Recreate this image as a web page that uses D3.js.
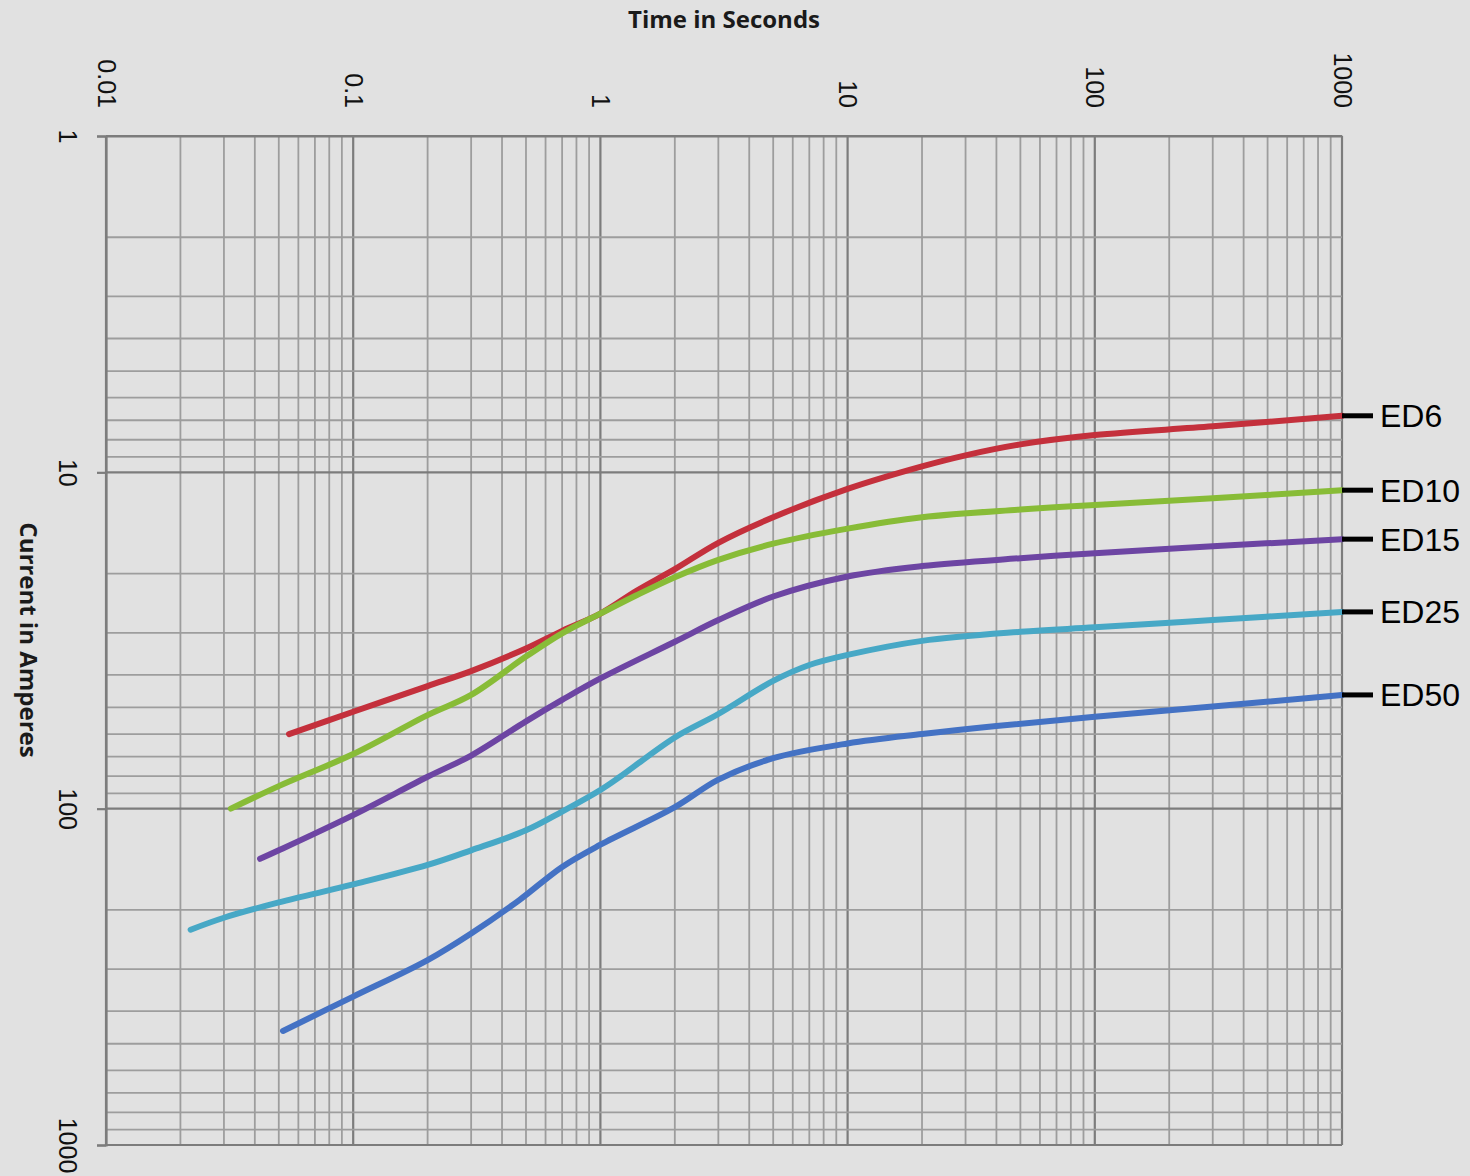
<!DOCTYPE html>
<html>
<head>
<meta charset="utf-8">
<script src="https://cdn.jsdelivr.net/npm/d3@7"></script>
<style>
  body { margin: 0; background: #e1e1e1; }
  svg { display: block; }
</style>
</head>
<body>
<div id="chart"></div>
<script>
// series names and colours
const seriesNames = ["ED6", "ED10", "ED15", "ED25", "ED50"];
const seriesColors = ["#c4303c", "#88bc37", "#6d45a3", "#47a8c6", "#4472c4"];

// time in seconds / current in amperes
const ed6Time    = [0.055, 0.1, 0.2, 0.3, 0.5, 0.7, 1, 1.4, 2, 3, 5, 10, 20, 30, 50, 100, 300, 1000];
const ed6Current = [60, 51.5, 43.2, 39, 33.4, 29.6, 26.3, 22.5, 19.4, 16.2, 13.6, 11.2, 9.6, 8.9, 8.26, 7.75, 7.3, 6.79];

const ed10Time    = [0.032, 0.05, 0.1, 0.2, 0.3, 0.5, 0.7, 1, 1.4, 2, 3, 5, 10, 20, 50, 100, 300, 1000];
const ed10Current = [100, 85.7, 68.8, 52.7, 45.9, 35.3, 30.1, 26.3, 23.2, 20.5, 18.2, 16.3, 14.7, 13.6, 12.9, 12.5, 11.95, 11.3];

const ed15Time    = [0.042, 0.05, 0.1, 0.2, 0.3, 0.5, 0.7, 1, 2, 3, 5, 10, 20, 50, 100, 300, 1000];
const ed15Current = [141, 133, 104.5, 80.4, 69.5, 55, 47.5, 41, 31.9, 27.5, 23.4, 20.4, 19, 18, 17.4, 16.6, 15.8];

const ed25Time    = [0.022, 0.03, 0.05, 0.1, 0.2, 0.3, 0.5, 0.7, 1, 1.2, 2, 3, 5, 7, 10, 20, 50, 100, 300, 1000];
const ed25Current = [229, 211, 190, 168, 147, 133, 116, 102, 88, 80.4, 61.4, 52.3, 41.7, 37.4, 34.9, 31.7, 29.8, 28.9, 27.5, 26];

const ed50Time    = [0.052, 0.1, 0.2, 0.3, 0.47, 0.7, 1, 2, 3, 5, 10, 20, 40, 100, 300, 1000];
const ed50Current = [458, 362, 282, 235, 187, 149, 128, 99, 82, 70.8, 64, 60, 56.8, 53.3, 49.7, 45.9];

// tick labels
const timeTicks = [0.01, 0.1, 1, 10, 100, 1000];
const currentTicks = [1, 10, 100, 1000];

const seriesTimes = [ed6Time, ed10Time, ed15Time, ed25Time, ed50Time];
const seriesCurrents = [ed6Current, ed10Current, ed15Current, ed25Current, ed50Current];

const width = 1470;
const height = 1176;
const margin = {t: 136, b: 31, l: 106, r: 128};

const svg = d3.select("#chart")
    .append("svg")
    .attr("width", width)
    .attr("height", height)
    .attr("viewBox", [0, 0, width, height]);

svg.append("rect")
    .attr("width", width)
    .attr("height", height)
    .attr("fill", "#e1e1e1");

//X Scale (time, log)
const xScale = d3.scaleLog()
    .domain([0.01, 1000])
    .range([margin.l, width - margin.r]);

//Y Scale (current, log, 1 at the top)
const yScale = d3.scaleLog()
    .domain([1, 1000])
    .range([margin.t, height - margin.b]);

const isMajor = v => Math.abs(Math.log10(v) - Math.round(Math.log10(v))) < 1e-9;

//Grid
const grid = svg.append("g").attr("class", "grid");
grid.selectAll("line.vgrid")
    .data(xScale.ticks())
    .enter()
    .append("line")
    .attr("class", "vgrid")
    .attr("x1", d => xScale(d))
    .attr("x2", d => xScale(d))
    .attr("y1", yScale(1))
    .attr("y2", yScale(1000))
    .style("stroke", d => isMajor(d) ? "#7c7c7c" : "#9d9d9d")
    .style("stroke-width", d => isMajor(d) ? 2.2 : 1.8);

grid.selectAll("line.hgrid")
    .data(yScale.ticks())
    .enter()
    .append("line")
    .attr("class", "hgrid")
    .attr("x1", xScale(0.01))
    .attr("x2", xScale(1000))
    .attr("y1", d => yScale(d))
    .attr("y2", d => yScale(d))
    .style("stroke", d => isMajor(d) ? "#7c7c7c" : "#9d9d9d")
    .style("stroke-width", d => isMajor(d) ? 2.2 : 1.8);

//Y Axis (ticks stick out on the left)
const yAxis = d3.axisLeft(yScale)
    .tickValues(currentTicks)
    .tickSize(9)
    .tickFormat(d3.format("d"));
const yAxisG = svg.append("g")
    .attr("class", "yAxis")
    .attr("transform", `translate(${margin.l}, 0)`)
    .call(yAxis);
yAxisG.select(".domain")
    .attr("stroke", "#7c7c7c")
    .attr("stroke-width", 2.2);
yAxisG.selectAll(".tick line")
    .attr("stroke", "#7c7c7c")
    .attr("stroke-width", 2.2);
yAxisG.selectAll(".tick text")
    .attr("x", null)
    .attr("dy", null)
    .attr("transform", `translate(${59 - margin.l}, 0) rotate(90)`)
    .attr("text-anchor", "middle")
    .attr("fill", "#111")
    .style("font-family", "'Liberation Sans', Arial, sans-serif")
    .style("font-size", "25px");

//X Axis labels on top, turned a quarter
const xAxis = d3.axisTop(xScale)
    .tickValues(timeTicks)
    .tickSize(0)
    .tickFormat(d => String(d));
const xAxisG = svg.append("g")
    .attr("class", "xAxis")
    .attr("transform", `translate(0, ${margin.t})`)
    .call(xAxis);
xAxisG.select(".domain")
    .attr("stroke", "#7c7c7c")
    .attr("stroke-width", 2.2);
xAxisG.selectAll(".tick text")
    .attr("y", null)
    .attr("dy", "0.36em")
    .attr("transform", `translate(0, ${108 - margin.t}) rotate(90)`)
    .attr("text-anchor", "end")
    .attr("fill", "#111")
    .style("font-family", "'Liberation Sans', Arial, sans-serif")
    .style("font-size", "25px");

//Titles
svg.append("text")
    .attr("x", 724)
    .attr("y", 28)
    .attr("text-anchor", "middle")
    .attr("fill", "#1a1a1a")
    .style("font-family", "'Open Sans', sans-serif")
    .style("font-weight", "bold")
    .style("font-size", "24px")
    .text("Time in Seconds");

svg.append("text")
    .attr("transform", "translate(20, 640) rotate(90)")
    .attr("text-anchor", "middle")
    .attr("fill", "#1a1a1a")
    .style("font-family", "'Open Sans', sans-serif")
    .style("font-weight", "bold")
    .style("font-size", "24px")
    .text("Current in Amperes");

//Curves
const line = d3.line()
    .x(d => xScale(d[0]))
    .y(d => yScale(d[1]))
    .curve(d3.curveCatmullRom.alpha(0.5));

const seriesData = seriesNames.map((name, i) => ({
    name: name,
    color: seriesColors[i],
    points: seriesTimes[i].map((t, j) => [t, seriesCurrents[i][j]])
}));

svg.append("g")
    .selectAll("path")
    .data(seriesData)
    .enter()
    .append("path")
    .attr("d", d => line(d.points))
    .attr("fill", "none")
    .attr("stroke", d => d.color)
    .attr("stroke-width", 6)
    .attr("stroke-linecap", "round")
    .attr("stroke-linejoin", "round");

//End labels
const labels = svg.append("g")
    .selectAll("g")
    .data(seriesData)
    .enter()
    .append("g")
    .attr("transform", d => {
        const last = d.points[d.points.length - 1];
        return `translate(${xScale(last[0])}, ${yScale(last[1])})`;
    });
labels.append("line")
    .attr("x1", 0)
    .attr("x2", 31)
    .attr("stroke", "#000")
    .attr("stroke-width", 5);
labels.append("text")
    .attr("x", 38)
    .attr("dy", "0.36em")
    .attr("fill", "#000")
    .style("font-family", "'Liberation Sans', Arial, sans-serif")
    .style("font-size", "32px")
    .text(d => d.name);
</script>
</body>
</html>
